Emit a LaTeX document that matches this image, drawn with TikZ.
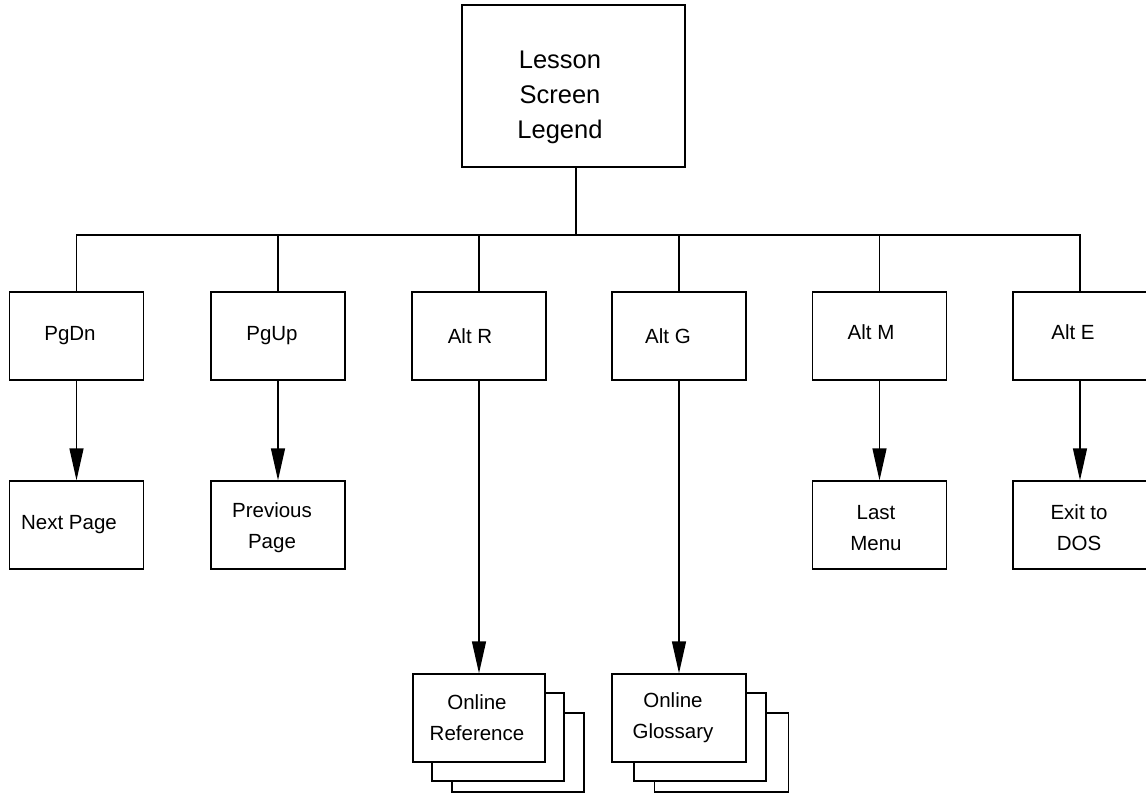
\documentclass[tikz,border=0pt]{standalone}
\usepackage{fontspec}
\setmainfont{Liberation Sans}
\usetikzlibrary{arrows.meta}
\newcommand\lblfont{\fontsize{20.5}{31}\selectfont}
\newcommand\topfont{\fontsize{25.5}{35}\selectfont}
\begin{document}
\begin{tikzpicture}[x=1pt,y=-1pt,
  box/.style={draw, line width=1.4pt, minimum width=134pt, minimum height=88pt, inner sep=0pt, fill=white},
  lbl/.style={font=\lblfont, align=center, inner sep=0pt},
  conn/.style={line width=1.4pt},
  arr/.style={line width=1.4pt, -{Triangle[length=32pt,width=14pt]}}]
\fill[white] (0,0) rectangle (1146,801);
\useasboundingbox (0,0) rectangle (1146,801);

% top box
\node[box, minimum width=223pt, minimum height=162pt] (top) at (573.5,86) {};
\node[font=\topfont, align=center, inner sep=0pt] (topt) at (560,97) {Lesson\\Screen\\Legend};

% upper row
\node[box] (pgdn) at (76.5,336) {};
\node[box] (pgup) at (278,336) {};
\node[box] (altr) at (479,336) {};
\node[box] (altg) at (679,336) {};
\node[box] (altm) at (879.5,336) {};
\node[box] (alte) at (1080,336) {};
\node[lbl] (pgdnt) at (70,336) {PgDn};
\node[lbl] (pgupt) at (272,336) {PgUp};
\node[lbl] (altrt) at (470,336) {Alt R};
\node[lbl] (altgt) at (668,336) {Alt G};
\node[lbl] (altmt) at (871,332) {Alt M};
\node[lbl] (altet) at (1073,332) {Alt E};

% lower row
\node[box] (next) at (76.5,525) {};
\node[box] (prev) at (278,525) {};
\node[box] (last) at (879.5,525) {};
\node[box] (exit) at (1080,525) {};
\node[lbl] (nextt) at (69,525) {Next Page};
\node[lbl] (prevt) at (272,528) {Previous\\Page};
\node[lbl] (lastt) at (876,528) {Last\\Menu};
\node[lbl] (exitt) at (1079,528) {Exit to\\DOS};

% stacked boxes: reference
\node[box, minimum width=132pt, minimum height=79pt] (refC) at (518,752.5) {};
\node[box, minimum width=132pt] (refB) at (498,737) {};
\node[box, minimum width=132pt] (refA) at (479,718) {};
\node[lbl] (refAt) at (477,718) {Online\\Reference};
% stacked boxes: glossary
\node[box, minimum width=134pt, minimum height=79pt] (gloC) at (721.5,752.5) {};
\node[box, minimum width=132pt] (gloB) at (700,737) {};
\node[box, minimum width=134pt] (gloA) at (679,718) {};
\node[lbl] (gloAt) at (673,718) {Online\\Glossary};

% connectors
\coordinate (bus) at (576,235);
\draw[conn] (top.south -| bus) -- (bus);
\draw[conn] (pgdn.north) |- (bus) -| (alte.north);
\draw[conn] (pgup.north) -- (pgup.north |- bus);
\draw[conn] (altr.north) -- (altr.north |- bus);
\draw[conn] (altg.north) -- (altg.north |- bus);
\draw[conn] (altm.north) -- (altm.north |- bus);

\draw[arr] (pgdn.south) -- (next.north);
\draw[arr] (pgup.south) -- (prev.north);
\draw[arr] (altm.south) -- (last.north);
\draw[arr] (alte.south) -- (exit.north);
\draw[arr] (altr.south) -- (altr.south |- refA.north);
\draw[arr] (altg.south) -- (altg.south |- gloA.north);
\end{tikzpicture}
\end{document}
